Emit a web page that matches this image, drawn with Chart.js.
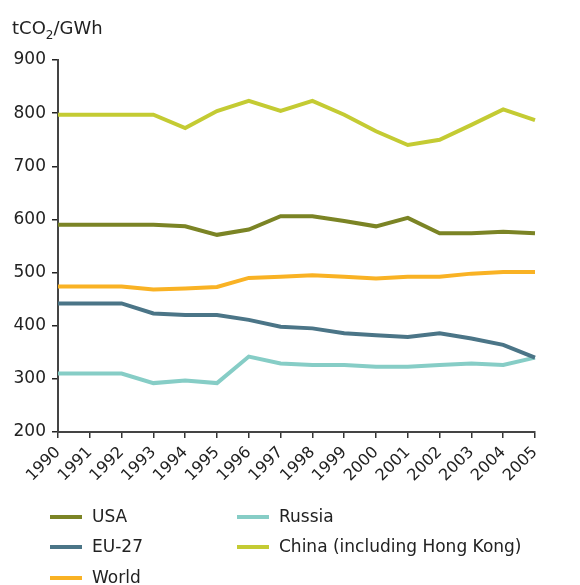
<!DOCTYPE html>
<html>
<head>
<meta charset="utf-8">
<script src="https://cdn.jsdelivr.net/npm/chart.js@4.4.1/dist/chart.umd.min.js"></script>
<style>
  body { margin: 0; background: #fff; }
  #wrap { position: relative; width: 580px; height: 585px; }
  #legend { position: absolute; left: 0; top: 0; font-family: "DejaVu Sans", Verdana, sans-serif; font-size: 17px; color: #222; }
  .item { position: absolute; white-space: nowrap; }
  .swatch { position: absolute; width: 32px; height: 4px; }
  .lbl { position: absolute; left: 42px; top: -9px; line-height: 20px; }
</style>
</head>
<body>
<div id="wrap">
  <canvas id="myChart" width="580" height="585"></canvas>
  <div id="legend"></div>
</div>
<script>
const years = ["1990", "1991", "1992", "1993", "1994", "1995", "1996", "1997",
  "1998", "1999", "2000", "2001", "2002", "2003", "2004", "2005"];

const usa = [590, 590, 590, 590, 587, 571, 581, 606, 606, 597, 587, 603, 574, 574, 577, 574];
const eu27 = [442, 442, 442, 423, 420, 420, 411, 398, 395, 386, 382, 379, 386, 376, 364, 340];
const world = [474, 474, 474, 468, 470, 473, 490, 492, 495, 492, 489, 492, 492, 498, 501, 501];
const russia = [310, 310, 310, 292, 297, 292, 342, 329, 326, 326, 323, 323, 326, 329, 326, 340];
const china = [797, 797, 797, 797, 772, 804, 823, 804, 823, 797, 766, 740, 750, 778, 807, 787];

const yTicks = [200, 300, 400, 500, 600, 700, 800, 900];

const FONT = "'DejaVu Sans', Verdana, sans-serif";

const series = [
  { label: "USA", data: usa, color: "#7b8425" },
  { label: "EU-27", data: eu27, color: "#4b7587" },
  { label: "World", data: world, color: "#f9b224" },
  { label: "Russia", data: russia, color: "#86cdc6" },
  { label: "China (including Hong Kong)", data: china, color: "#c4cb33" },
];

// unit label with subscript 2
const unitLabel = {
  id: "unitLabel",
  afterDraw(chart) {
    const ctx = chart.ctx;
    ctx.save();
    ctx.fillStyle = "#222";
    ctx.textBaseline = "alphabetic";
    ctx.font = "18px " + FONT;
    let x = 12;
    ctx.fillText("tCO", x, 34);
    x += ctx.measureText("tCO").width;
    ctx.font = "12px " + FONT;
    ctx.fillText("2", x, 39);
    x += ctx.measureText("2").width;
    ctx.font = "18px " + FONT;
    ctx.fillText("/GWh", x, 34);
    ctx.restore();
  },
};

const chart = new Chart(document.getElementById("myChart"), {
  type: "line",
  data: {
    labels: years,
    datasets: series.map((s) => ({
      label: s.label,
      data: s.data,
      borderColor: s.color,
      backgroundColor: s.color,
      borderWidth: 4,
      pointRadius: 0,
      tension: 0,
      fill: false,
    })),
  },
  options: {
    responsive: false,
    animation: false,
    layout: { padding: { top: 60, right: 45, left: 0, bottom: 0 } },
    plugins: { legend: { display: false }, tooltip: { enabled: false } },
    scales: {
      x: {
        offset: false,
        grid: { drawOnChartArea: false, drawTicks: true, tickLength: 6, color: "#333", lineWidth: 1.5 },
        border: { color: "#444", width: 2 },
        ticks: { color: "#222", font: { family: FONT, size: 16 }, minRotation: 45, maxRotation: 45, autoSkip: false, padding: 5 },
        afterFit: (scale) => { scale.height = 153; },
      },
      y: {
        min: 200,
        max: 900,
        afterBuildTicks: (scale) => { scale.ticks = yTicks.map((v) => ({ value: v })); },
        grid: { drawOnChartArea: false, drawTicks: true, tickLength: 6, color: "#222", lineWidth: 1.5 },
        border: { color: "#444", width: 2 },
        ticks: { color: "#222", font: { family: FONT, size: 17 }, padding: 6 },
        afterFit: (scale) => { scale.width = 58; },
      },
    },
  },
  plugins: [unitLabel],
});

// legend in two columns, filled top to bottom
const legend = document.getElementById("legend");
const rowY = [517, 547, 578];
series.forEach((s, i) => {
  const col = Math.floor(i / 3);
  const row = i % 3;
  const item = document.createElement("div");
  item.className = "item";
  item.style.left = (col === 0 ? 50 : 237) + "px";
  item.style.top = (rowY[row] - 2) + "px";
  item.innerHTML = '<div class="swatch" style="background:' + s.color + '"></div><div class="lbl">' + s.label + "</div>";
  legend.appendChild(item);
});
</script>
</body>
</html>
